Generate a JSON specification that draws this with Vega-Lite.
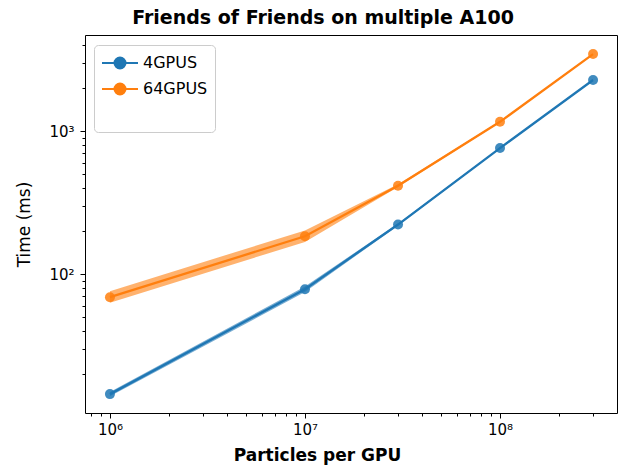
{
  "$schema": "https://vega.github.io/schema/vega-lite/v6.json",
  "autosize": "none",
  "width": 532,
  "height": 378,
  "padding": {"left": 85, "top": 35, "right": 5, "bottom": 54},
  "title": {"text": "Friends of Friends on multiple A100", "font": "DejaVu Sans", "fontSize": 19, "fontWeight": "bold", "color": "black", "anchor": "middle", "dx": -28, "offset": 7},
  "config": {
    "view": {"stroke": "black", "strokeWidth": 1},
    "axis": {"labelFont": "DejaVu Sans", "titleFont": "DejaVu Sans", "labelColor": "black", "titleColor": "black", "tickColor": "black", "domain": false, "grid": false}
  },
  "data": {"values": [
    {"n": 1000000, "series": "4GPUS", "t": 14.5, "lo": 14.0, "hi": 15.0},
    {"n": 10000000, "series": "4GPUS", "t": 78.5, "lo": 75, "hi": 82},
    {"n": 30000000, "series": "4GPUS", "t": 222, "lo": 218, "hi": 226},
    {"n": 100000000, "series": "4GPUS", "t": 760, "lo": 752, "hi": 768},
    {"n": 300000000, "series": "4GPUS", "t": 2275, "lo": 2255, "hi": 2295},
    {"n": 1000000, "series": "64GPUS", "t": 69, "lo": 63, "hi": 76},
    {"n": 10000000, "series": "64GPUS", "t": 184, "lo": 168, "hi": 202},
    {"n": 30000000, "series": "64GPUS", "t": 415, "lo": 406, "hi": 424},
    {"n": 100000000, "series": "64GPUS", "t": 1160, "lo": 1145, "hi": 1175},
    {"n": 300000000, "series": "64GPUS", "t": 3450, "lo": 3420, "hi": 3480}
  ]},
  "encoding": {
    "color": {
      "field": "series", "type": "nominal",
      "scale": {"domain": ["4GPUS", "64GPUS", "\u00a0"], "range": ["#1f77b4", "#ff7f0e", "rgba(0,0,0,0)"]},
      "legend": {
        "title": null, "orient": "none", "legendX": 9, "legendY": 10,
        "labelFont": "DejaVu Sans", "labelFontSize": 16, "labelColor": "black",
        "symbolType": "M-1.8,0L1.8,0M-0.55,0A0.55,0.55,0,1,0,0.55,0A0.55,0.55,0,1,0,-0.55,0Z",
        "symbolSize": 400, "symbolStrokeWidth": 2, "symbolOpacity": 1, "symbolOffset": 8,
        "labelOffset": 12, "rowPadding": 5, "padding": 7,
        "strokeColor": "#cccccc", "fillColor": "rgba(255,255,255,0.8)", "cornerRadius": 4
      }
    }
  },
  "resolve": {"axis": {"x": "independent", "y": "independent"}},
  "layer": [
    {
      "mark": {"type": "area", "opacity": 0.6},
      "encoding": {
        "x": {"field": "n", "type": "quantitative", "scale": {"type": "log", "domain": [745000, 398000000], "nice": false}, "axis": null},
        "y": {"field": "lo", "type": "quantitative", "scale": {"type": "log", "domain": [10.7, 4690], "nice": false}, "axis": null},
        "y2": {"field": "hi"}
      }
    },
    {
      "mark": {"type": "line", "strokeWidth": 2.3},
      "encoding": {
        "x": {"field": "n", "type": "quantitative", "scale": {"type": "log", "domain": [745000, 398000000], "nice": false},
          "axis": {"orient": "bottom", "values": [1000000, 10000000, 100000000], "labelExpr": "'10' + (datum.value == 1000000 ? '⁶' : datum.value == 10000000 ? '⁷' : '⁸')", "tickSize": 5, "labelFontSize": 15, "labelPadding": 4, "title": "Particles per GPU", "titleFontSize": 17, "titleFontWeight": "bold", "titleX": 232, "titlePadding": 10}},
        "y": {"field": "t", "type": "quantitative", "scale": {"type": "log", "domain": [10.7, 4690], "nice": false},
          "axis": {"orient": "left", "values": [100, 1000], "labelExpr": "'10' + (datum.value == 100 ? '²' : '³')", "tickSize": 5, "labelFontSize": 15, "labelPadding": 6, "title": "Time (ms)", "titleFontSize": 17, "titleFontWeight": "normal", "titlePadding": 15}}
      }
    },
    {
      "mark": {"type": "point", "filled": true, "size": 100, "opacity": 0.85},
      "encoding": {
        "x": {"field": "n", "type": "quantitative", "scale": {"type": "log", "domain": [745000, 398000000], "nice": false},
          "axis": {"orient": "bottom", "values": [800000, 900000, 2000000, 3000000, 4000000, 5000000, 6000000, 7000000, 8000000, 9000000, 20000000, 30000000, 40000000, 50000000, 60000000, 70000000, 80000000, 90000000, 200000000, 300000000], "labels": false, "tickSize": 3, "title": null}},
        "y": {"field": "t", "type": "quantitative", "scale": {"type": "log", "domain": [10.7, 4690], "nice": false},
          "axis": {"orient": "left", "values": [20, 30, 40, 50, 60, 70, 80, 90, 200, 300, 400, 500, 600, 700, 800, 900, 2000, 3000, 4000], "labels": false, "tickSize": 3, "title": null}}
      }
    }
  ]
}
